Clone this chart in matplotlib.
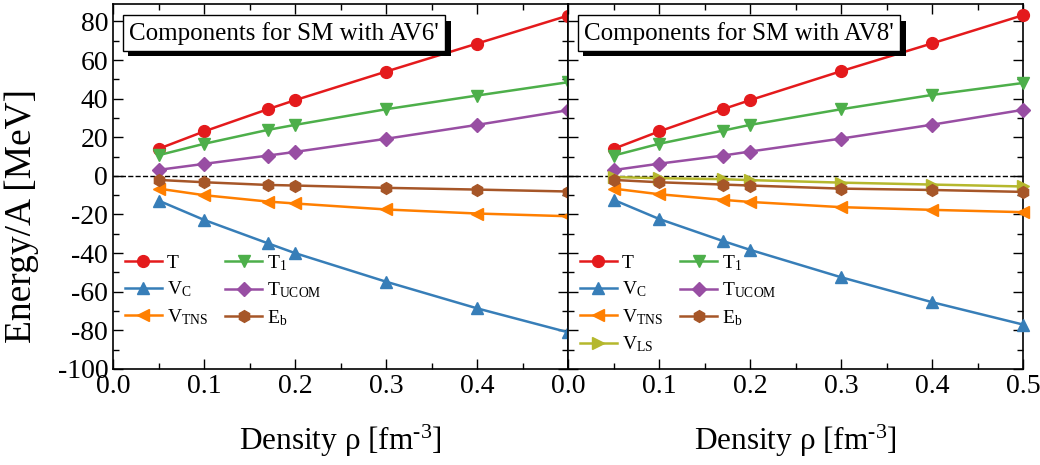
import numpy as np
import matplotlib
matplotlib.use("Agg")
import matplotlib.pyplot as plt
import matplotlib.patheffects as pe

plt.rcParams['font.family'] = ['Liberation Serif', 'DejaVu Serif']
plt.rcParams['mathtext.fontset'] = 'custom'
plt.rcParams['mathtext.rm'] = 'Liberation Serif'
plt.rcParams['mathtext.it'] = 'Liberation Serif'
plt.rcParams['axes.unicode_minus'] = False

# densities (fm^-3)
rho = [0.05, 0.1, 0.17, 0.2, 0.3, 0.4, 0.5]

# AV6' components (MeV)
T_av6 = [14.0, 23.0, 34.5, 39.2, 54.0, 68.5, 83.0]
T1_av6 = [10.7, 16.6, 23.8, 26.4, 34.5, 41.6, 48.5]
Tucom_av6 = [3.1, 6.2, 10.5, 12.4, 19.2, 26.4, 34.0]
Vc_av6 = [-12.8, -22.8, -34.9, -40.0, -54.8, -68.6, -81.0]
Vtns_av6 = [-6.6, -10.0, -13.3, -14.3, -17.4, -19.5, -20.9]
Eb_av6 = [-2.1, -3.3, -4.7, -5.0, -6.2, -7.1, -8.1]

# AV8' components (MeV)
T_av8 = [14.0, 23.0, 34.5, 39.2, 54.2, 68.6, 83.2]
T1_av8 = [10.5, 16.6, 23.4, 26.4, 34.5, 41.9, 48.1]
Tucom_av8 = [3.0, 6.3, 10.5, 12.6, 19.3, 26.5, 34.2]
Vc_av8 = [-12.4, -22.3, -33.7, -38.3, -52.5, -65.4, -77.0]
Vtns_av8 = [-6.6, -9.5, -12.4, -13.5, -16.2, -17.6, -18.8]
Vls_av8 = [-0.6, -1.2, -1.7, -2.2, -3.5, -4.5, -5.5]
Eb_av8 = [-2.1, -3.3, -4.5, -5.0, -6.6, -7.3, -8.3]

styles = {
    'T': ('#e41a1c', 'o', r'T'),
    'T1': ('#4daf4a', 'v', r'T$_1$'),
    'Vc': ('#377eb8', '^', r'V$_\mathrm{C}$'),
    'Tucom': ('#984ea3', 'D', r'T$_\mathrm{UCOM}$'),
    'Vtns': ('#ff7f00', '<', r'V$_\mathrm{TNS}$'),
    'Eb': ('#a65628', 'h', r'E$_\mathrm{b}$'),
    'Vls': ('#b5b82d', '>', r'V$_\mathrm{LS}$'),
}

fig = plt.figure(figsize=(10.4, 4.65), dpi=100)
fig.subplots_adjust(left=0.1087, right=0.9837, top=0.9914, bottom=0.2065, wspace=0)
ax1 = fig.add_subplot(1, 2, 1)
ax2 = fig.add_subplot(1, 2, 2, sharey=ax1)


def draw(ax, data, order, title):
    lines = {}
    for key, vals in data.items():
        c, m, lab = styles[key]
        ms = 7 if m == 'D' else 8.5
        lines[key], = ax.plot(rho, vals, color=c, marker=m, ms=ms, lw=1.8, label=lab,
                              clip_on=False, zorder=3)
    ax.axhline(0, color='black', ls='--', lw=1, zorder=2)
    ax.set_xlim(0, 0.5)
    ax.set_ylim(-100, 89)
    ax.set_xticks(np.arange(0, 0.51, 0.1))
    ax.set_xticks(np.arange(0, 0.51, 0.05), minor=True)
    ax.set_yticks(np.arange(-100, 81, 20))
    ax.set_yticks(np.arange(-100, 90, 10), minor=True)
    ax.tick_params(which='both', direction='in', top=True, right=True, labelsize=20)
    ax.tick_params(which='major', length=7, width=1)
    ax.tick_params(which='minor', length=4, width=1)
    ax.set_xlabel(r'Density $\rho$ [fm$^{\text{-3}}$]', fontsize=22.5, labelpad=17)
    handles = [lines[k] for k in order]
    ax.legend(handles=handles, ncol=2, loc='upper left', bbox_to_anchor=(0.0, 0.35),
              frameon=False, fontsize=14, handlelength=1.9, columnspacing=0.9,
              labelspacing=0.4, handletextpad=0.25, borderaxespad=0.2)
    # title box with drop shadow
    t = ax.text(0.035, 0.952, title, transform=ax.transAxes, fontsize=18, va='top',
                ha='left', zorder=6,
                bbox=dict(boxstyle='square,pad=0.25', fc='white', ec='black', lw=1))
    t.get_bbox_patch().set_path_effects([
        pe.SimplePatchShadow(offset=(4, -4), shadow_rgbFace='black', alpha=1.0),
        pe.Normal()])
    for s in ax.spines.values():
        s.set_linewidth(1.2)


draw(ax1, {'T': T_av6, 'T1': T1_av6, 'Vc': Vc_av6, 'Tucom': Tucom_av6,
           'Vtns': Vtns_av6, 'Eb': Eb_av6},
     ['T', 'Vc', 'Vtns', 'T1', 'Tucom', 'Eb'], "Components for SM with AV6'")
draw(ax2, {'T': T_av8, 'T1': T1_av8, 'Vc': Vc_av8, 'Tucom': Tucom_av8,
           'Vtns': Vtns_av8, 'Vls': Vls_av8, 'Eb': Eb_av8},
     ['T', 'Vc', 'Vtns', 'Vls', 'T1', 'Tucom', 'Eb'], "Components for SM with AV8'")

ax1.set_xticklabels(['0.0', '0.1', '0.2', '0.3', '0.4', ''])
ax1.set_ylabel('Energy/A [MeV]', fontsize=27)
ax1.yaxis.set_label_coords(-0.163, 0.42)
ax2.tick_params(labelleft=False)

fig.savefig('out.png', dpi=100)
